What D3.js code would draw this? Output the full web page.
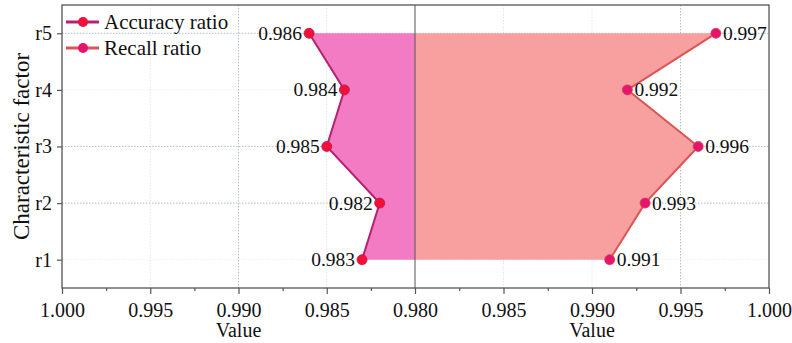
<!DOCTYPE html>
<html><head><meta charset="utf-8">
<script src="https://cdn.jsdelivr.net/npm/d3@7"></script>
<style>body{margin:0;background:#fff}svg{display:block}</style>
</head><body><svg id="c" width="792" height="343"></svg>
<script>
const categories = ["r1","r2","r3","r4","r5"];
const accuracy = [0.983, 0.982, 0.985, 0.984, 0.986];
const recall = [0.991, 0.993, 0.996, 0.992, 0.997];
const leftTicks = [1.000, 0.995, 0.990, 0.985, 0.980];
const rightTicks = [0.985, 0.990, 0.995, 1.000];
const minorTicks = [0.9975, 0.9925, 0.9875, 0.9825];
const minorTicksR = [0.9825, 0.9875, 0.9925, 0.9975];

const svg = d3.select("#c");
const font = "'Liberation Serif','Times New Roman',serif";
const L = 62, M = 415, R = 769, T = 5, B = 288;

const xL = d3.scaleLinear().domain([1.000, 0.980]).range([L, M]);
const xR = d3.scaleLinear().domain([0.980, 1.000]).range([M, R]);
const y = d3.scaleLinear().domain([0.5, 5.5]).range([B, T]);
const yc = (c) => y(categories.indexOf(c) + 1);

// grid
const g = svg.append("g");
g.selectAll(".hg").data(categories).enter().append("line")
  .attr("x1", L).attr("x2", R).attr("y1", d => yc(d)).attr("y2", d => yc(d))
  .attr("stroke", "#a9bcc8").attr("stroke-width", 1).attr("stroke-dasharray", "1.5,1.5")
  .attr("opacity", (d,i) => (i===0||i===3) ? 0.25 : 0.9);
g.selectAll(".vgl").data([0.995, 0.990, 0.985]).enter().append("line")
  .attr("x1", d => xL(d)).attr("x2", d => xL(d)).attr("y1", T).attr("y2", B)
  .attr("stroke", "#a9bcc8").attr("stroke-dasharray", "1.5,1.5")
  .attr("opacity", d => d===0.990 ? 0.9 : 0.35);
g.selectAll(".vgr").data([0.985, 0.990, 0.995]).enter().append("line")
  .attr("x1", d => xR(d)).attr("x2", d => xR(d)).attr("y1", T).attr("y2", B)
  .attr("stroke", "#a9bcc8").attr("stroke-dasharray", "1.5,1.5")
  .attr("opacity", d => d===0.995 ? 0.9 : 0.35);

// areas
const accPts = categories.map((c,i) => ({c, v: accuracy[i]}));
const recPts = categories.map((c,i) => ({c, v: recall[i]}));
const areaL = d3.area().y(d => yc(d.c)).x0(xL(0.980)).x1(d => xL(d.v));
const areaR = d3.area().y(d => yc(d.c)).x0(xR(0.980)).x1(d => xR(d.v));
svg.append("path").datum(accPts).attr("d", areaL).attr("fill", "#f27bc3");
svg.append("path").datum(recPts).attr("d", areaR).attr("fill", "#f8a0a0");

// center line
svg.append("line").attr("x1", M).attr("x2", M).attr("y1", T).attr("y2", B)
  .attr("stroke", "#555").attr("stroke-width", 1);

// lines
const lineL = d3.line().y(d => yc(d.c)).x(d => xL(d.v));
const lineR = d3.line().y(d => yc(d.c)).x(d => xR(d.v));
svg.append("path").datum(accPts).attr("d", lineL).attr("fill", "none").attr("stroke", "#b5226f").attr("stroke-width", 2);
svg.append("path").datum(recPts).attr("d", lineR).attr("fill", "none").attr("stroke", "#dc5555").attr("stroke-width", 2);

svg.selectAll(".ma").data(accPts).enter().append("circle")
  .attr("cx", d => xL(d.v)).attr("cy", d => yc(d.c)).attr("r", 5)
  .attr("fill", "#f0103a").attr("stroke", "#c8104a").attr("stroke-width", 0.8);
svg.selectAll(".mr").data(recPts).enter().append("circle")
  .attr("cx", d => xR(d.v)).attr("cy", d => yc(d.c)).attr("r", 5)
  .attr("fill", "#e8146c").attr("stroke", "#d04060").attr("stroke-width", 0.8);

// value labels
svg.selectAll(".la").data(accPts).enter().append("text")
  .attr("x", d => xL(d.v) - 7).attr("y", d => yc(d.c) + 6.5)
  .attr("text-anchor", "end").attr("font-family", font).attr("font-size", 19.5).attr("fill", "#111")
  .text(d => d.v.toFixed(3));
svg.selectAll(".lr").data(recPts).enter().append("text")
  .attr("x", d => xR(d.v) + 7).attr("y", d => yc(d.c) + 6.5)
  .attr("text-anchor", "start").attr("font-family", font).attr("font-size", 19.5).attr("fill", "#111")
  .text(d => d.v.toFixed(3));

// frame
svg.append("rect").attr("x", L).attr("y", T).attr("width", R - L).attr("height", B - T)
  .attr("fill", "none").attr("stroke", "#555").attr("stroke-width", 1.3);

// axes
const axL = svg.append("g").attr("transform", `translate(0,${B})`)
  .call(d3.axisBottom(xL).tickValues(leftTicks).tickFormat(d3.format(".3f")).tickSize(6).tickSizeOuter(0));
const axR = svg.append("g").attr("transform", `translate(0,${B})`)
  .call(d3.axisBottom(xR).tickValues(rightTicks).tickFormat(d3.format(".3f")).tickSize(6).tickSizeOuter(0));
svg.append("g").attr("transform", `translate(0,${B})`)
  .call(d3.axisBottom(xL).tickValues(minorTicks).tickFormat("").tickSize(3).tickSizeOuter(0));
svg.append("g").attr("transform", `translate(0,${B})`)
  .call(d3.axisBottom(xR).tickValues(minorTicksR).tickFormat("").tickSize(3).tickSizeOuter(0));
const axY = svg.append("g").attr("transform", `translate(${L},0)`)
  .call(d3.axisLeft(y).tickValues([1,2,3,4,5]).tickFormat(d => categories[d-1]).tickSize(5).tickSizeOuter(0));
svg.selectAll(".domain").remove();
svg.selectAll(".tick line").attr("stroke", "#555").attr("stroke-width", 1.2);
svg.selectAll(".tick text").attr("font-family", font).attr("font-size", 20).attr("fill", "#111");
axL.selectAll(".tick text").attr("y", 11).attr("dy", "0.9em");
axR.selectAll(".tick text").attr("y", 11).attr("dy", "0.9em");
axY.selectAll(".tick text").attr("font-size", 20).attr("dx", "-2");

// axis titles
svg.append("text").attr("x", xL(0.990)).attr("y", 337).attr("text-anchor", "middle")
  .attr("font-family", font).attr("font-size", 20).attr("fill", "#111").text("Value");
svg.append("text").attr("x", xR(0.990)).attr("y", 337).attr("text-anchor", "middle")
  .attr("font-family", font).attr("font-size", 20).attr("fill", "#111").text("Value");
svg.append("text").attr("transform", `translate(29,${(T+B)/2}) rotate(-90)`).attr("text-anchor", "middle")
  .attr("font-family", font).attr("font-size", 23).attr("fill", "#111").text("Characteristic factor");

// legend
const legend = [
  {name: "Accuracy ratio", line: "#b5226f", marker: "#f0103a"},
  {name: "Recall ratio", line: "#dc5555", marker: "#e8146c"}
];
const lg = svg.selectAll(".lg").data(legend).enter().append("g")
  .attr("transform", (d,i) => `translate(66,${22 + i*26})`);
lg.append("line").attr("x1", 0).attr("x2", 33).attr("stroke", d => d.line).attr("stroke-width", 3);
lg.append("circle").attr("cx", 17).attr("r", 5).attr("fill", d => d.marker);
lg.append("text").attr("x", 38).attr("y", 6.5).attr("font-family", font).attr("font-size", 21)
  .attr("fill", "#111").text(d => d.name);
</script></body></html>
